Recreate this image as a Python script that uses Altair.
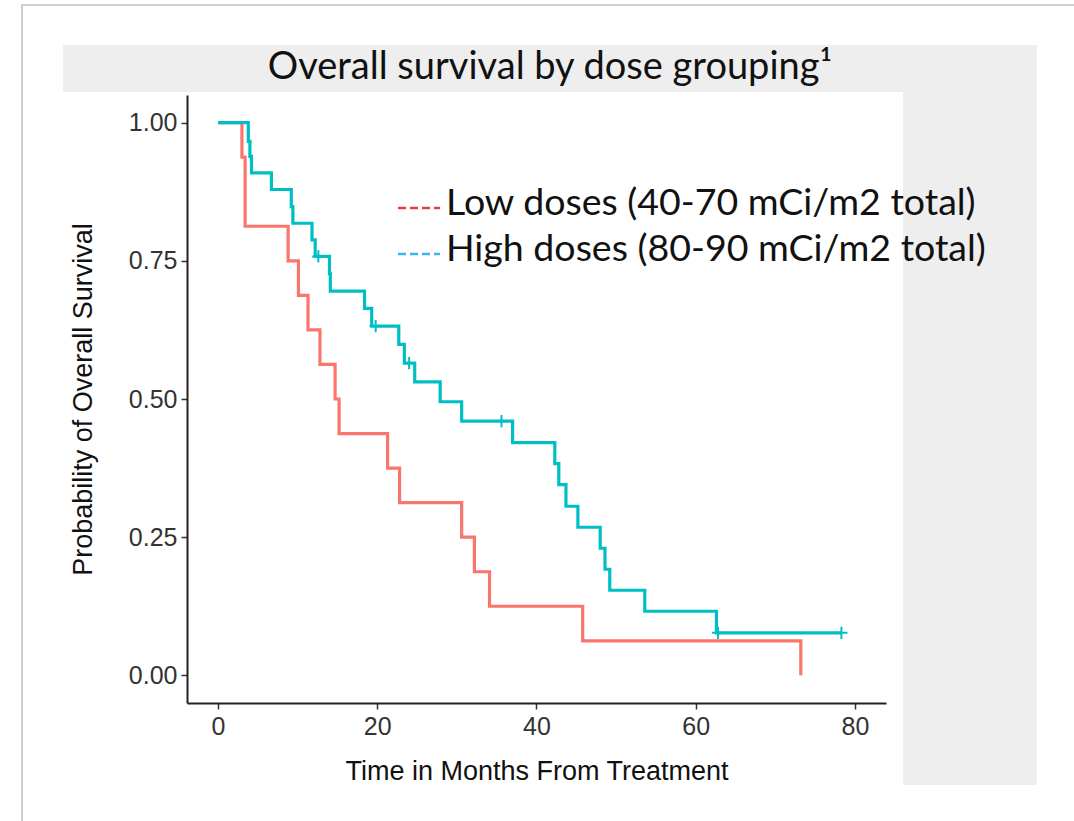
import altair as alt
import pandas as pd

# ---- data ----
low_times = [0, 3.0, 3.4, 8.8, 10.1, 11.3, 12.8, 14.7, 15.2, 21.3, 22.8, 30.6, 32.2, 34.1, 45.8, 73.2]
low_surv = [1.0, 0.9375, 0.8125, 0.75, 0.6875, 0.625, 0.5625, 0.5, 0.4375, 0.375, 0.3125, 0.25, 0.1875, 0.125, 0.0625, 0.0]

high_times = [0, 3.8, 4.0, 4.2, 6.7, 9.2, 9.4, 11.8, 12.2, 14.0, 14.1, 18.4, 19.3, 22.7, 23.4, 24.7,
              27.9, 30.6, 37.0, 42.3, 42.8, 43.7, 45.2, 48.0, 48.6, 49.2, 53.6, 62.6, 78.3]
high_surv = [1.0, 0.966, 0.939, 0.909, 0.879, 0.848, 0.818, 0.788, 0.758, 0.727, 0.695, 0.664, 0.632, 0.599,
             0.565, 0.531, 0.495, 0.460, 0.421, 0.383, 0.345, 0.306, 0.268, 0.230, 0.192, 0.154, 0.116, 0.077, 0.077]

high_censor_times = [12.6, 19.8, 24.0, 35.6, 62.8, 78.3]
high_censor_surv = [0.758, 0.632, 0.565, 0.460, 0.077, 0.077]

groups = ["Low", "High"]
line_colors = ["#F8766D", "#00BFC4"]
legend_labels = ["Low doses (40-70 mCi/m2 total)", "High doses (80-90 mCi/m2 total)"]
legend_dash_colors = ["#F03A3A", "#3AB4EE"]

x_ticks = [0, 20, 40, 60, 80]
y_ticks = [0.0, 0.25, 0.5, 0.75, 1.0]

title_text = "Overall survival by dose grouping\u00b9"
x_title = "Time in Months From Treatment"
y_title = "Probability of Overall Survival"

# ---- tables ----
curves = pd.concat([
    pd.DataFrame({"time": low_times, "surv": low_surv, "group": groups[0], "order": 0}),
    pd.DataFrame({"time": high_times, "surv": high_surv, "group": groups[1], "order": 1}),
], ignore_index=True)
censors = pd.DataFrame({"time": high_censor_times, "surv": high_censor_surv, "group": groups[1]})

W, H = 699, 608
PL, PT = 187, 95

xscale = alt.Scale(domain=[-3.9, 83.9], nice=False, zero=False)
yscale = alt.Scale(domain=[-0.05, 1.05], nice=False, zero=False)
cscale = alt.Scale(domain=groups, range=line_colors)

one = pd.DataFrame({"k": [0]})

def rect(x1, x2, y1, y2, color, **kw):
    return alt.Chart(one).mark_rect(color=color, clip=False, **kw).encode(
        x=alt.value(x1 - PL), x2=alt.value(x2 - PL), y=alt.value(y1 - PT), y2=alt.value(y2 - PT))

page_border = alt.Chart(one).mark_rect(filled=False, stroke="#cfcfcf", strokeWidth=2, clip=False).encode(
    x=alt.value(22 - PL), x2=alt.value(1090 - PL), y=alt.value(5 - PT), y2=alt.value(840 - PT))
title_band = rect(63, 1037, 45, 92, "#eeeeee")
right_band = rect(903, 1037, 92, 785, "#eeeeee")

base_axis_x = alt.Axis(values=x_ticks, format="d", title=x_title, grid=False, tickSize=6, tickWidth=1.5,
                       domainWidth=2, domainColor="#222222", tickColor="#333333",
                       labelFont="Liberation Sans", labelFontSize=25, labelColor="#333333", labelPadding=5,
                       titleFont="Liberation Sans", titleFontSize=27, titleFontWeight="normal",
                       titleColor="#111111", titlePadding=19)
base_axis_y = alt.Axis(values=y_ticks, format=".2f", title=y_title, grid=False, tickSize=6, tickWidth=1.5,
                       domainWidth=2, domainColor="#222222", tickColor="#333333",
                       labelFont="Liberation Sans", labelFontSize=25, labelColor="#333333", labelPadding=4,
                       titleFont="Liberation Sans", titleFontSize=27, titleFontWeight="normal",
                       titleColor="#111111", titlePadding=31)

lines = alt.Chart(curves).mark_line(interpolate="step-after", strokeWidth=3.2).encode(
    x=alt.X("time:Q", scale=xscale, axis=base_axis_x),
    y=alt.Y("surv:Q", scale=yscale, axis=base_axis_y),
    color=alt.Color("group:N", scale=cscale, legend=None),
    order="order:Q",
    detail="group:N",
)

cross = "M-1,0H1M0,-1V1"
censor_marks = alt.Chart(censors).mark_point(shape=cross, filled=False, size=150, strokeWidth=2, opacity=1).encode(
    x=alt.X("time:Q", scale=xscale),
    y=alt.Y("surv:Q", scale=yscale),
    color=alt.Color("group:N", scale=cscale, legend=None),
)

title = alt.Chart(one).mark_text(text=title_text, font="Lato", fontSize=38, color="#111111",
                                 align="center", baseline="middle", clip=False).encode(
    x=alt.value(550 - PL), y=alt.value(68 - PT))

legend_layers = []
for i, (lab, col) in enumerate(zip(legend_labels, legend_dash_colors)):
    yc = 204 + 46 * i
    legend_layers.append(
        alt.Chart(one).mark_rule(color=col, strokeWidth=2.5, strokeDash=[8, 4], clip=False).encode(
            x=alt.value(398 - PL), x2=alt.value(440 - PL), y=alt.value(yc + 4 - PT)))
    legend_layers.append(
        alt.Chart(one).mark_text(text=lab, font="Lato", fontSize=37.5, color="#111111",
                                 align="left", baseline="middle", clip=False).encode(
            x=alt.value(446 - PL), y=alt.value(yc - PT)))

chart = alt.layer(page_border, title_band, right_band, lines, censor_marks, title, *legend_layers).properties(
    width=W, height=H,
    padding={"left": PL, "top": PT, "right": 1074 - PL - W, "bottom": 821 - PT - H},
    autosize=alt.AutoSizeParams(type="none"),
    background="white",
).configure_view(stroke=None)

chart.save("out.html", embed_options={"renderer": "svg", "actions": False})
